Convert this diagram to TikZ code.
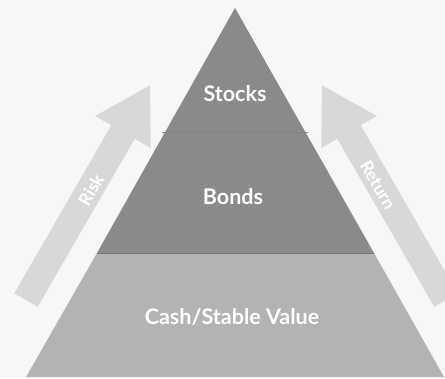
\documentclass[tikz,border=0pt]{standalone}
\usepackage{fontspec}
\setmainfont{Lato}
\definecolor{bgc}{HTML}{F7F7F7}
\definecolor{topc}{HTML}{8A8A8A}
\definecolor{botc}{HTML}{B3B3B3}
\definecolor{arrc}{HTML}{D8D8D8}
\definecolor{sepc}{HTML}{828282}
\begin{document}
\begin{tikzpicture}[x=1pt,y=-1pt,
  lvl/.style={text=white,font=\bfseries\fontsize{21.5}{23}\selectfont,inner sep=0pt},
  arrlbl/.style={text=white,font=\bfseries\fontsize{17.5}{19}\selectfont,inner sep=0pt},
  bigarrow/.style={fill=arrc,draw=none}]
\fill[bgc] (0,0) rectangle (445,378);
\useasboundingbox (0,0) rectangle (445,378);
% pyramid
\coordinate (apex) at (235,8);
\coordinate (bl) at (26,377);
\coordinate (br) at (444,377);
\coordinate (ml) at (97,253);
\coordinate (mr) at (374,253);
\fill[botc] (ml) -- (mr) -- (br) -- (bl) -- cycle;
\fill[topc] (apex) -- (mr) -- (ml) -- cycle;
\draw[sepc,line width=0.4pt] (162,132) -- (308,132);
\draw[black!55,line width=0.5pt] (ml) -- (mr);
% left arrow (Risk)
\fill[bigarrow] (14.3,293.3) -- (111.3,125.3) -- (95.3,116) -- (150,85.2)
  -- (150.7,148) -- (134.7,138.8) -- (37.7,306.8) -- cycle;
% right arrow (Return)
\fill[bigarrow] (457.7,293.3) -- (360.7,125.3) -- (376.7,116) -- (322,85.2)
  -- (321.3,148) -- (337.3,138.8) -- (434.3,306.8) -- cycle;
% labels
\node[lvl] (stocks) at (235,94) {Stocks};
\node[lvl] (bonds) at (233,197) {Bonds};
\node[lvl] (cash) at (232,317) {Cash/Stable Value};
\node[arrlbl,rotate=60] (risk) at (91,190) {Risk};
\node[arrlbl,rotate=-60] (return) at (378,185) {Return};
\end{tikzpicture}
\end{document}
